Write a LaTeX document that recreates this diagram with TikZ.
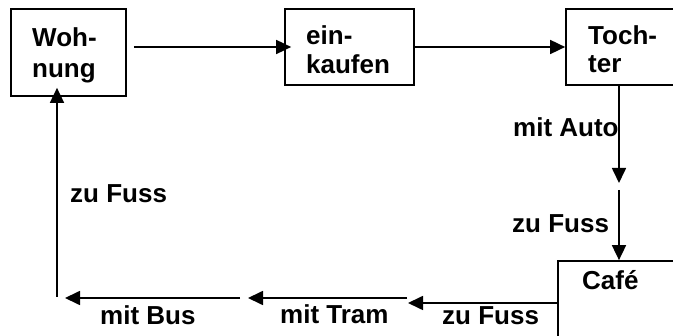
\documentclass[tikz,border=0pt]{standalone}
\usepackage{fontspec}
\setmainfont{Liberation Sans}
\usetikzlibrary{arrows.meta,calc}

\tikzset{
  box/.style={draw, line width=1.7pt, rectangle, inner sep=0pt},
  lbl/.style={anchor=base west, inner sep=0pt,
    font=\fontsize{26}{30}\selectfont\bfseries},
  arr/.style={line width=1.7pt,
    -{Triangle[length=15pt,width=14pt]}},
}

\begin{document}
\begin{tikzpicture}[x=1pt,y=-1pt]
  \useasboundingbox (0,0) rectangle (673,336);
  \clip (0,0) rectangle (673,336);

  % stations
  \node[box, minimum width=115pt, minimum height=87pt] (woh) at (68.5,52.5) {};
  \node[box, minimum width=129pt, minimum height=76pt] (ein) at (349.5,47) {};
  \node[box, minimum width=124pt, minimum height=76pt] (toch) at (628,47) {};
  \node[box, minimum width=132pt, minimum height=89pt] (cafe) at (624,305.5) {};

  \node[lbl] (woh1) at (32,47) {Woh-};
  \node[lbl] (woh2) at (32,78) {nung};
  \node[lbl] (ein1) at (306,45) {ein-};
  \node[lbl] (ein2) at (306,74) {kaufen};
  \node[lbl] (toch1) at (588,45) {Toch-};
  \node[lbl] (toch2) at (588,73) {ter};
  \node[lbl] (cafe1) at (582,290) {Café};

  % free ends of the route
  \coordinate (autoEnd) at (619,183);
  \coordinate (fussTop) at (619,190);
  \coordinate (fussEnd) at (408,303);
  \coordinate (tramStart) at (407,298);
  \coordinate (tramEnd) at (248,298);
  \coordinate (busStart) at (240,298);
  \coordinate (busEnd) at (65,298);
  \coordinate (walkStart) at (57,297);

  % connectors
  \draw[arr] ($(woh.east |- ein.west)+(7,0)$) -- ($(ein.west)+(7,0)$);
  \draw[arr] (ein.east) -- (toch.west);
  \draw[arr] (toch.south -| autoEnd) -- (autoEnd);
  \draw[arr] (fussTop) -- (fussTop |- cafe.north);
  \draw[arr] (cafe.west |- fussEnd) -- (fussEnd);
  \draw[arr] (tramStart) -- (tramEnd);
  \draw[arr] (busStart) -- (busEnd);
  \draw[arr] (walkStart) -- ($(walkStart |- woh.south)+(0,-9)$);

  % route labels
  \node[lbl] (lAuto) at (513,137) {mit Auto};
  \node[lbl] (lFussR) at (512,233) {zu Fuss};
  \node[lbl] (lFussL) at (70,203) {zu Fuss};
  \node[lbl] (lBus) at (100,325) {mit Bus};
  \node[lbl] (lTram) at (280,324) {mit Tram};
  \node[lbl] (lFussB) at (442,325) {zu Fuss};
\end{tikzpicture}
\end{document}
